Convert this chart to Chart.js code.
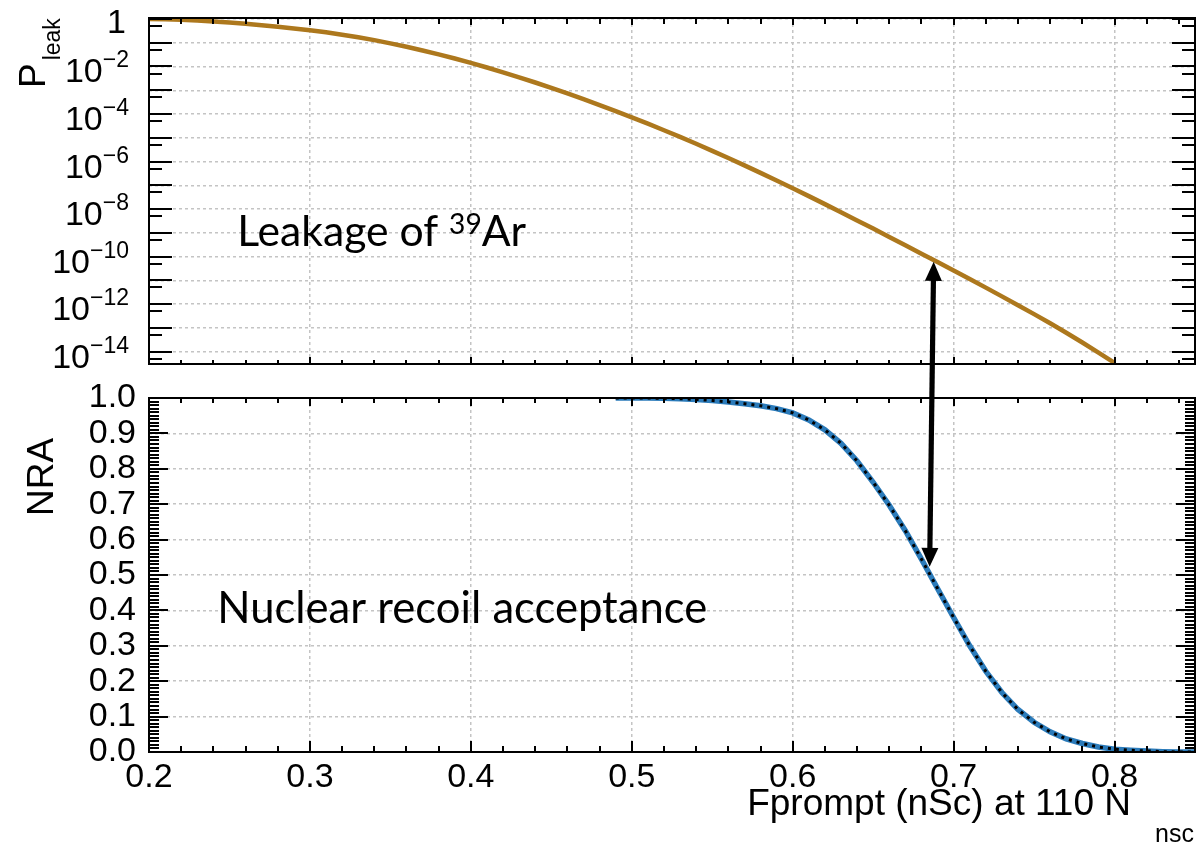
<!DOCTYPE html>
<html>
<head>
<meta charset="utf-8">
<script src="https://cdn.jsdelivr.net/npm/chart.js@4.4.0/dist/chart.umd.min.js"></script>
<style>
  html, body { margin: 0; padding: 0; background: #fff; }
  #wrap { position: relative; width: 1198px; height: 846px; }
  #wrap canvas { position: absolute; left: 0; top: 0; }
</style>
</head>
<body>
<div id="wrap">
  <canvas id="leakChart" width="1198" height="846"></canvas>
  <canvas id="nraChart" width="1198" height="846"></canvas>
</div>
<script>
// Fprompt values for the 39Ar leakage curve (top panel)
var fpLeak = [0.20, 0.21, 0.22, 0.23, 0.24, 0.25, 0.26, 0.27, 0.28, 0.29,
              0.30, 0.31, 0.32, 0.33, 0.34, 0.35, 0.36, 0.37, 0.38, 0.39,
              0.40, 0.41, 0.42, 0.43, 0.44, 0.45, 0.46, 0.47, 0.48, 0.49,
              0.50, 0.51, 0.52, 0.53, 0.54, 0.55, 0.56, 0.57, 0.58, 0.59,
              0.60, 0.61, 0.62, 0.63, 0.64, 0.65, 0.66, 0.67, 0.68, 0.69,
              0.70, 0.71, 0.72, 0.73, 0.74, 0.75, 0.76, 0.77, 0.78, 0.79, 0.80];
var pLeak = [1.0, 0.968, 0.920, 0.859, 0.787, 0.708, 0.627, 0.547, 0.471, 0.400,
             0.335, 0.275, 0.219, 0.170, 0.129, 0.0944, 0.0676, 0.0473, 0.0324, 0.0216,
             0.0141, 9.04e-3, 5.68e-3, 3.50e-3, 2.12e-3, 1.26e-3, 7.35e-4, 4.23e-4, 2.39e-4, 1.33e-4,
             7.28e-5, 3.93e-5, 2.08e-5, 1.09e-5, 5.57e-6, 2.82e-6, 1.40e-6, 6.89e-7, 3.33e-7, 1.59e-7,
             7.50e-8, 3.49e-8, 1.61e-8, 7.36e-9, 3.33e-9, 1.50e-9, 6.67e-10, 2.97e-10, 1.32e-10, 5.85e-11,
             2.58e-11, 1.14e-11, 4.92e-12, 2.11e-12, 8.95e-13, 3.76e-13, 1.55e-13, 6.18e-14, 2.40e-14, 9.10e-15,
             3.35e-15];

// Fprompt values for the nuclear recoil acceptance (bottom panel)
var fpNra = [0.49, 0.50, 0.51, 0.52, 0.53, 0.54, 0.55, 0.56, 0.57, 0.58,
             0.59, 0.60, 0.61, 0.62, 0.63, 0.64, 0.65, 0.66, 0.67, 0.68,
             0.69, 0.70, 0.71, 0.72, 0.73, 0.74, 0.75, 0.76, 0.77, 0.78,
             0.79, 0.80, 0.81, 0.82, 0.83, 0.84, 0.85];
var nra = [1.000, 1.000, 1.000, 0.999, 0.998, 0.996, 0.993, 0.989, 0.984, 0.978,
           0.970, 0.958, 0.938, 0.910, 0.872, 0.822, 0.762, 0.697, 0.625, 0.545,
           0.462, 0.380, 0.300, 0.228, 0.168, 0.120, 0.084, 0.057, 0.037, 0.024,
           0.014, 0.008, 0.005, 0.003, 0.001, 0.000, 0.000];

var xTicks = [0.2, 0.3, 0.4, 0.5, 0.6, 0.7, 0.8];
var leakExponents = [0, -1, -2, -3, -4, -5, -6, -7, -8, -9, -10, -11, -12, -13, -14];
var leakLabelExponents = [0, -2, -4, -6, -8, -10, -12, -14];
var nraTicks = [0, 0.1, 0.2, 0.3, 0.4, 0.5, 0.6, 0.7, 0.8, 0.9, 1.0];

// arrow joining the two curves (data coordinates)
var arrowTop = { fp: 0.6876, pLeak: 6e-11 };
var arrowBottom = { fp: 0.6851, nra: 0.523 };

var AXIS_FONT = '"Liberation Sans", Arial, sans-serif';
var NOTE_FONT = 'Lato, "Open Sans", sans-serif';
var gridColor = '#c4c4c4';

function xy(xs, ys) {
  return xs.map(function (x, i) { return { x: x, y: ys[i] }; });
}

// ROOT style inward ticks + frame
function drawFrame(chart, o) {
  var ctx = chart.ctx, a = chart.chartArea;
  var xs = chart.scales.x, ys = chart.scales.y;
  ctx.save();
  ctx.strokeStyle = '#000';
  ctx.lineWidth = 2;
  ctx.beginPath();
  for (var v = 0.2; v <= 0.8501; v += 0.02) {
    var major = Math.abs(v * 10 - Math.round(v * 10)) < 1e-6;
    var px = Math.round(xs.getPixelForValue(v));
    if (px > a.right - 1) continue;
    ctx.moveTo(px, a.bottom); ctx.lineTo(px, a.bottom - (major ? o.xBotMajor : o.xBotMinor));
    ctx.moveTo(px, a.top); ctx.lineTo(px, a.top + (major ? o.xTopMajor : o.xTopMinor));
  }
  o.yMajor.forEach(function (val) {
    var py = Math.round(ys.getPixelForValue(val));
    if (py < a.top || py > a.bottom) return;
    ctx.moveTo(a.left, py); ctx.lineTo(a.left + o.yMajorLen, py);
    ctx.moveTo(a.right, py); ctx.lineTo(a.right - o.yMajorLen, py);
  });
  o.yMinor.forEach(function (val) {
    var py = Math.round(ys.getPixelForValue(val));
    if (py < a.top || py > a.bottom) return;
    ctx.moveTo(a.left, py); ctx.lineTo(a.left + o.yMinorLen, py);
    ctx.moveTo(a.right, py); ctx.lineTo(a.right - o.yMinorLen, py);
  });
  ctx.stroke();
  ctx.strokeRect(a.left, a.top, a.right - a.left, a.bottom - a.top);
  ctx.restore();
}

// text with a raised part, fitted to a target width
function drawNote(ctx, x, y, before, sup, after, width) {
  ctx.save();
  ctx.font = '100px ' + NOTE_FONT;
  var w = ctx.measureText(before).width + ctx.measureText(after).width;
  ctx.font = '66px ' + NOTE_FONT;
  w += sup ? ctx.measureText(sup).width : 0;
  var f = 100 * width / w;
  ctx.fillStyle = '#000';
  ctx.textBaseline = 'alphabetic';
  ctx.textAlign = 'left';
  ctx.font = f + 'px ' + NOTE_FONT;
  ctx.fillText(before, x, y);
  var cx = x + ctx.measureText(before).width;
  if (sup) {
    ctx.font = (f * 0.66) + 'px ' + NOTE_FONT;
    ctx.fillText(sup, cx, y - f * 0.3);
    cx += ctx.measureText(sup).width;
  }
  ctx.font = f + 'px ' + NOTE_FONT;
  ctx.fillText(after, cx, y);
  ctx.restore();
}

function drawArrow(ctx, x1, y1, x2, y2) {
  var ang = Math.atan2(y2 - y1, x2 - x1);
  var len = Math.hypot(x2 - x1, y2 - y1);
  var hl = 19, hw = 8.5;
  ctx.save();
  ctx.translate(x1, y1);
  ctx.rotate(ang);
  ctx.fillStyle = '#000';
  ctx.fillRect(hl - 1, -2.6, len - 2 * hl + 2, 5.2);
  ctx.beginPath(); ctx.moveTo(0, 0); ctx.lineTo(hl, -hw); ctx.lineTo(hl, hw); ctx.closePath(); ctx.fill();
  ctx.beginPath(); ctx.moveTo(len, 0); ctx.lineTo(len - hl, -hw); ctx.lineTo(len - hl, hw); ctx.closePath(); ctx.fill();
  ctx.restore();
}

var leakMinor = leakExponents.map(function (e) { return 5 * Math.pow(10, e - 1); });
var nraMinor = [];
for (var k = 0; k <= 100; k++) { if (k % 10) nraMinor.push(k / 100); }

var leakDecor = {
  id: 'leakDecor',
  afterDraw: function (chart) {
    var ctx = chart.ctx, ys = chart.scales.y;
    drawFrame(chart, {
      xBotMajor: 7, xBotMinor: 4, xTopMajor: 7, xTopMinor: 6,
      yMajor: leakExponents.map(function (e) { return Math.pow(10, e); }),
      yMinor: leakMinor, yMajorLen: 23, yMinorLen: 13
    });
    // y tick labels 10^n
    ctx.save();
    ctx.fillStyle = '#000';
    ctx.textAlign = 'right';
    ctx.textBaseline = 'alphabetic';
    leakLabelExponents.forEach(function (e) {
      var py = ys.getPixelForValue(Math.pow(10, e));
      if (e === 0) {
        ctx.font = '34px ' + AXIS_FONT;
        ctx.fillText('1', 126, py + 14);
        return;
      }
      var ex = '\u2212' + (-e);
      ctx.font = '23px ' + AXIS_FONT;
      var ew = ctx.measureText(ex).width;
      ctx.fillText(ex, 129, py + 1);
      ctx.font = '34px ' + AXIS_FONT;
      ctx.fillText('10', 129 - ew, py + 16);
    });
    // y title P_leak (rotated)
    ctx.translate(45, 88);
    ctx.rotate(-Math.PI / 2);
    ctx.textAlign = 'left';
    ctx.font = '37px ' + AXIS_FONT;
    ctx.fillText('P', 0, 0);
    var pw = ctx.measureText('P').width;
    ctx.font = '23px ' + AXIS_FONT;
    ctx.fillText('leak', pw + 3, 15);
    ctx.restore();
    var xs = chart.scales.x;
    drawNote(ctx, xs.getPixelForValue(0.2548), ys.getPixelForValue(2.65e-10),
             'Leakage of ', '39', 'Ar', 289);
  }
};

var nraDecor = {
  id: 'nraDecor',
  afterDraw: function (chart) {
    var ctx = chart.ctx, xs = chart.scales.x, ys = chart.scales.y;
    drawFrame(chart, {
      xBotMajor: 11, xBotMinor: 6, xTopMajor: 8, xTopMinor: 5,
      yMajor: nraTicks, yMinor: nraMinor, yMajorLen: 19, yMinorLen: 10
    });
    ctx.save();
    ctx.fillStyle = '#000';
    // y title
    ctx.save();
    ctx.translate(53, 477);
    ctx.rotate(-Math.PI / 2);
    ctx.textAlign = 'center';
    ctx.textBaseline = 'alphabetic';
    ctx.font = '37px ' + AXIS_FONT;
    ctx.fillText('NRA', 0, 0);
    ctx.restore();
    // x title
    ctx.textBaseline = 'alphabetic';
    ctx.textAlign = 'right';
    ctx.font = '37px ' + AXIS_FONT;
    ctx.fillText('Fprompt (nSc) at 110 N', 1131, 815);
    ctx.textAlign = 'left';
    ctx.font = '25px ' + AXIS_FONT;
    ctx.fillText('nsc', 1155, 842);
    ctx.restore();
    drawNote(ctx, xs.getPixelForValue(0.2424), ys.getPixelForValue(0.364),
             'Nuclear recoil acceptance', '', '', 490);
    // arrow between the panels
    var lx = leakChart.scales.x, ly = leakChart.scales.y;
    drawArrow(ctx,
      lx.getPixelForValue(arrowTop.fp), ly.getPixelForValue(arrowTop.pLeak),
      xs.getPixelForValue(arrowBottom.fp), ys.getPixelForValue(arrowBottom.nra));
  }
};

var xAxisBase = {
  type: 'linear',
  min: 0.2,
  max: 0.85,
  afterBuildTicks: function (s) { s.ticks = xTicks.map(function (v) { return { value: v }; }); },
  grid: { color: gridColor, lineWidth: 1.5, drawTicks: false },
  border: { display: false, dash: [3, 3] }
};

var leakChart = new Chart('leakChart', {
  type: 'scatter',
  data: {
    datasets: [{
      data: xy(fpLeak, pLeak),
      showLine: true,
      borderColor: '#ad781d',
      borderWidth: 4.5,
      pointRadius: 0
    }]
  },
  options: {
    responsive: false,
    animation: false,
    events: [],
    layout: { padding: { left: 0, right: 3, top: 18, bottom: 482 } },
    plugins: { legend: { display: false }, tooltip: { enabled: false } },
    scales: {
      x: Object.assign({}, xAxisBase, {
        ticks: { display: false },
        afterFit: function (s) { s.height = 0; }
      }),
      y: {
        type: 'logarithmic',
        min: 3.2e-15,
        max: 1.1,
        afterBuildTicks: function (s) {
          s.ticks = leakExponents.map(function (e) { return { value: Math.pow(10, e) }; });
        },
        afterFit: function (s) { s.width = 149; },
        ticks: { display: false },
        grid: { color: gridColor, lineWidth: 1.5, drawTicks: false },
        border: { display: false, dash: [3, 3] }
      }
    }
  },
  plugins: [leakDecor]
});

var nraChart = new Chart('nraChart', {
  type: 'scatter',
  data: {
    datasets: [{
      data: xy(fpNra, nra),
      showLine: true,
      borderColor: '#000',
      borderWidth: 3,
      borderDash: [3, 5],
      borderCapStyle: 'butt',
      pointRadius: 0
    }, {
      data: xy(fpNra, nra),
      showLine: true,
      borderColor: '#2b7bba',
      borderWidth: 5.5,
      pointRadius: 0
    }]
  },
  options: {
    responsive: false,
    animation: false,
    events: [],
    layout: { padding: { left: 0, right: 3, top: 398, bottom: 0 } },
    plugins: { legend: { display: false }, tooltip: { enabled: false } },
    scales: {
      x: Object.assign({}, xAxisBase, {
        ticks: {
          color: '#000',
          font: { family: AXIS_FONT, size: 34, lineHeight: 1 },
          padding: 9,
          maxRotation: 0,
          autoSkip: false,
          callback: function (v) { return Number(v).toFixed(1); }
        },
        afterFit: function (s) { s.height = 94; }
      }),
      y: {
        type: 'linear',
        min: 0,
        max: 1,
        afterBuildTicks: function (s) { s.ticks = nraTicks.map(function (v) { return { value: v }; }); },
        afterFit: function (s) { s.width = 149; },
        ticks: {
          color: '#000',
          font: { family: AXIS_FONT, size: 34, lineHeight: 1 },
          padding: 13,
          autoSkip: false,
          callback: function (v) { return Number(v).toFixed(1); }
        },
        grid: { color: gridColor, lineWidth: 1.5, drawTicks: false },
        border: { display: false, dash: [3, 3] }
      }
    }
  },
  plugins: [nraDecor]
});
</script>
</body>
</html>
